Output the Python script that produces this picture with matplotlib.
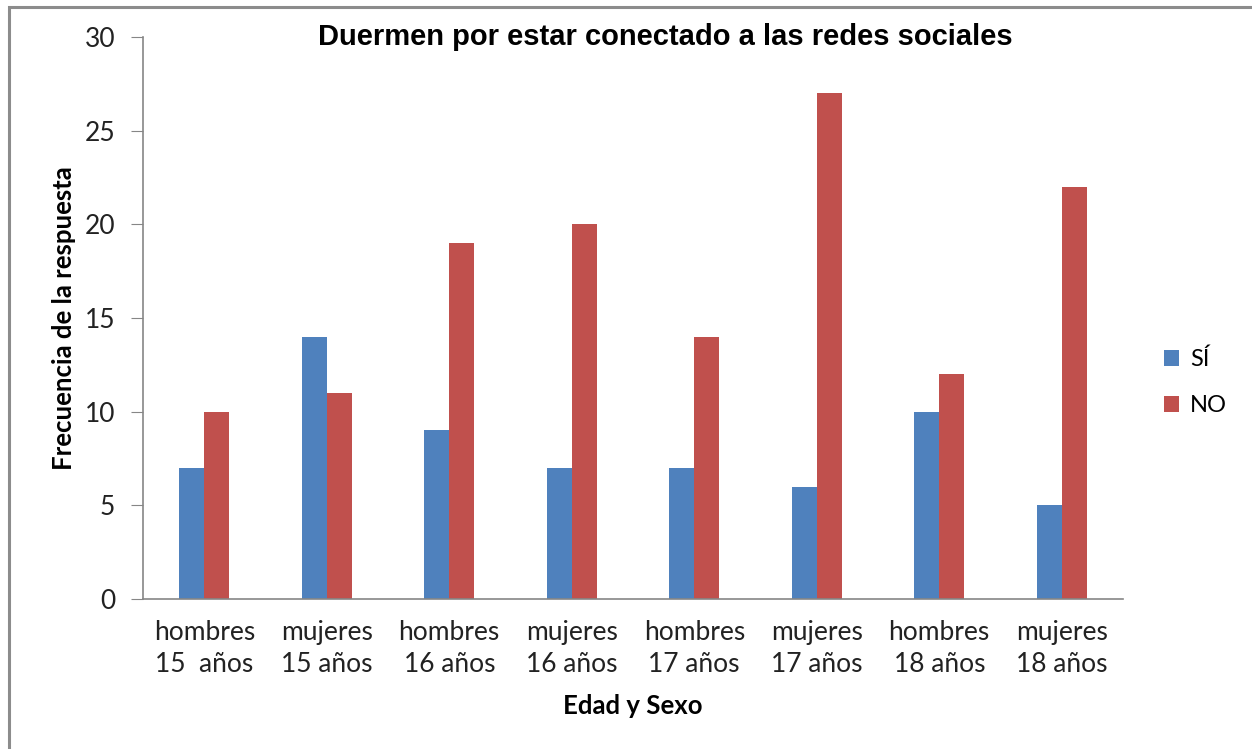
import matplotlib
matplotlib.use("Agg")
import matplotlib.pyplot as plt
import numpy as np
from matplotlib.patches import Rectangle

groups = ["hombres\n15  años", "mujeres\n15 años", "hombres\n16 años", "mujeres\n16 años",
          "hombres\n17 años", "mujeres\n17 años", "hombres\n18 años", "mujeres\n18 años"]
si_vals = [7, 14, 9, 7, 7, 6, 10, 5]
no_vals = [10, 11, 19, 20, 14, 27, 12, 22]

blue = "#4F81BD"
red = "#C0504D"
axis_gray = "#868686"
label_font = "Lato"

fig = plt.figure(figsize=(12.52, 7.49), dpi=100)
ax = fig.add_axes([143 / 1252, 1 - 599 / 749, 980 / 1252, 562 / 749])

x = np.arange(len(groups))
width = 0.205
ax.bar(x - width / 2, si_vals, width, color=blue, label="SÍ")
ax.bar(x + width / 2, no_vals, width, color=red, label="NO")

ax.set_xlim(-0.5, len(groups) - 0.5)
ax.set_ylim(0, 30)
ax.set_yticks(range(0, 31, 5))
ax.set_xticks(x)
ax.set_xticklabels(groups, family=label_font, fontsize=19, color="#222222", linespacing=1.38)
for lbl in ax.get_yticklabels():
    lbl.set_family(label_font)
    lbl.set_fontsize(19)
    lbl.set_color("#222222")

ax.tick_params(axis="x", length=0, pad=15)
ax.tick_params(axis="y", length=9, color=axis_gray, pad=11)
for side in ["top", "right"]:
    ax.spines[side].set_visible(False)
for side in ["left", "bottom"]:
    ax.spines[side].set_color(axis_gray)
    ax.spines[side].set_linewidth(1.2)

ax.set_ylabel("Frecuencia de la respuesta", family=label_font, fontweight="bold", fontsize=18.5, labelpad=6)
ax.set_xlabel("Edad y Sexo", family=label_font, fontweight="bold", fontsize=18.5, labelpad=12)

fig.text(665 / 1252, 1 - 37 / 749, "Duermen por estar conectado a las redes sociales",
         family="Liberation Sans", fontweight="bold", fontsize=21, ha="center", va="center")

leg = ax.legend(loc="center left", bbox_to_anchor=(1.02, 0.385), frameon=False,
                prop={"family": label_font, "size": 17}, handlelength=0.65, handleheight=0.65,
                handletextpad=0.45, labelspacing=1.05)

# frame around the chart area
fig.patches.append(Rectangle((9 / 1252, -0.1), 1.2, 1 - 7 / 749 + 0.1, transform=fig.transFigure,
                             fill=False, edgecolor="#8c8c8c", linewidth=2.2))

fig.savefig("out.png", dpi=100)
